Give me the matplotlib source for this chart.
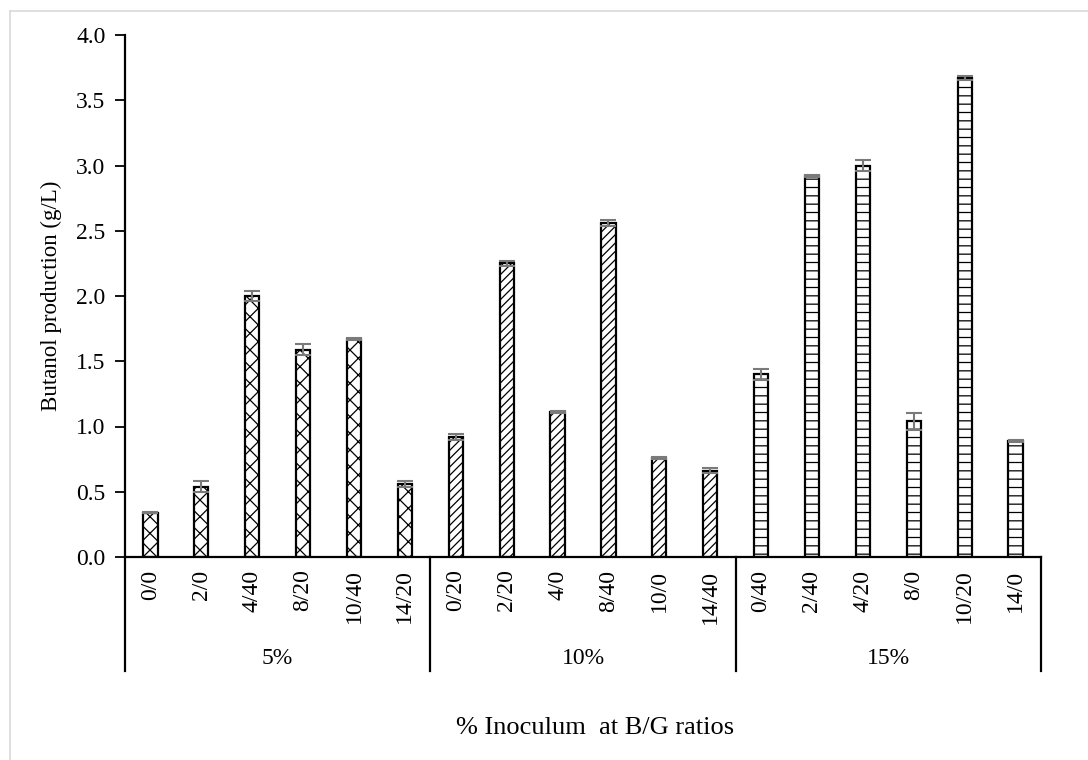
import matplotlib
matplotlib.use("Agg")
import matplotlib.pyplot as plt
import numpy as np
from matplotlib.lines import Line2D

plt.rcParams['font.family'] = ['Liberation Serif', 'DejaVu Serif']
plt.rcParams['hatch.linewidth'] = 0.9
plt.rcParams['hatch.color'] = 'black'

groups = ["5%", "10%", "15%"]
ratios_5 = ["0/0", "2/0", "4/40", "8/20", "10/40", "14/20"]
ratios_10 = ["0/20", "2/20", "4/0", "8/40", "10/0", "14/40"]
ratios_15 = ["0/40", "2/40", "4/20", "8/0", "10/20", "14/0"]

butanol_5 = [0.34, 0.54, 2.00, 1.59, 1.67, 0.56]
butanol_10 = [0.92, 2.25, 1.11, 2.56, 0.76, 0.66]
butanol_15 = [1.40, 2.92, 3.00, 1.04, 3.67, 0.89]

err_5 = [0.005, 0.04, 0.04, 0.04, 0.01, 0.02]
err_10 = [0.02, 0.02, 0.01, 0.025, 0.01, 0.02]
err_15 = [0.04, 0.01, 0.04, 0.065, 0.015, 0.01]

hatches = ["xx", "////", "--"]

fig = plt.figure(figsize=(10.88, 7.6), dpi=100)
ax = fig.add_axes([125 / 1088, 1 - 557 / 760, (1041 - 125) / 1088, (557 - 35) / 760])

series = [(ratios_5, butanol_5, err_5), (ratios_10, butanol_10, err_10),
          (ratios_15, butanol_15, err_15)]
labels = []
start = 0
for g, (cats, vals, errs) in enumerate(series):
    x = np.arange(start, start + len(cats))
    ax.bar(x, vals, width=0.28, color="white", edgecolor="black",
           linewidth=1.6, hatch=hatches[g], zorder=2)
    ax.errorbar(x, vals, yerr=errs, fmt="none", ecolor="#7a7a7a",
                elinewidth=1.5, capsize=6, capthick=1.5, zorder=3)
    labels.extend(cats)
    start += len(cats)

n = len(labels)
ax.set_xlim(-0.5, n - 0.5)
ax.set_ylim(0, 4.0)
ax.set_yticks(np.arange(0, 4.01, 0.5))
ax.set_yticklabels([f"{v:.1f}" for v in np.arange(0, 4.01, 0.5)], fontsize=17)
ax.tick_params(axis="y", direction="out", length=7, width=1.3, pad=7)
ax.set_xticks(np.arange(n))
ax.set_xticklabels(labels, rotation=90, fontsize=17, va="top")
ax.tick_params(axis="x", length=0, pad=9)

for side in ["top", "right"]:
    ax.spines[side].set_visible(False)
ax.spines["left"].set_linewidth(1.6)
ax.spines["bottom"].set_linewidth(1.6)

# group separators below the category axis
trans = ax.get_xaxis_transform()
y_low = -(671 - 557) / (557 - 35)
for xs in [-0.5, 5.5, 11.5, 17.5]:
    ax.add_line(Line2D([xs, xs], [0, y_low], transform=trans, color="black",
                       linewidth=1.6, clip_on=False))
for g, name in enumerate(groups):
    ax.text(g * 6 + 2.5, -(658 - 557) / (557 - 35), name, transform=trans,
            ha="center", va="center", fontsize=17)

ax.set_ylabel("Butanol production (g/L)", fontsize=16.5, labelpad=10)
fig.text(595 / 1088, 1 - 728 / 760, "% Inoculum  at B/G ratios",
         ha="center", va="center", fontsize=19)

# thin grey frame edges
fig.add_artist(Line2D([10 / 1088, 10 / 1088], [0, 1 - 11 / 760],
                      transform=fig.transFigure, color="#d9d9d9", linewidth=1.2))
fig.add_artist(Line2D([10 / 1088, 1], [1 - 11 / 760, 1 - 11 / 760],
                      transform=fig.transFigure, color="#d9d9d9", linewidth=1.2))

fig.savefig("out.png", dpi=100)
